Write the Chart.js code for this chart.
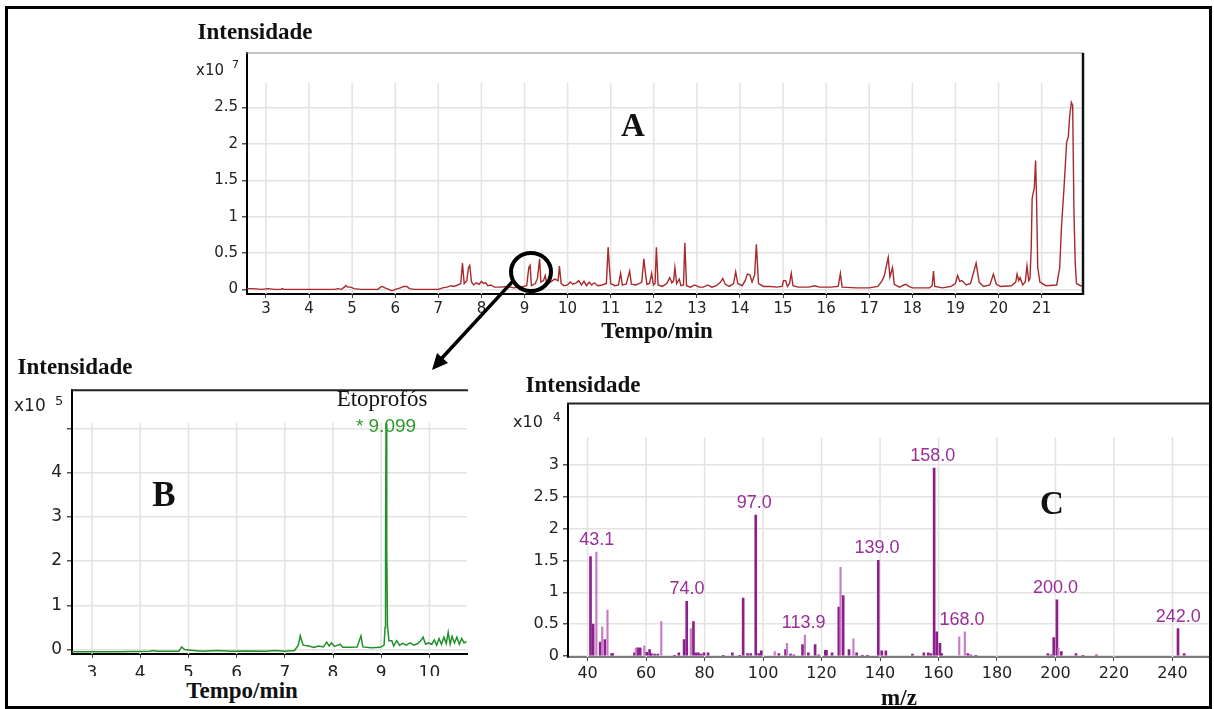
<!DOCTYPE html>
<html>
<head>
<meta charset="utf-8">
<title>Cromatograma e espectro de massas</title>
<script src="https://cdn.jsdelivr.net/npm/chart.js@4.4.1/dist/chart.umd.min.js"></script>
<style>
  html, body { margin: 0; padding: 0; background: #fff; }
  body { width: 1214px; height: 709px; position: relative; overflow: hidden; }
  canvas { position: absolute; }
  .t { position: absolute; transform: translate(-50%, -50%); white-space: nowrap; line-height: 1; }
  .serif { font-family: "Liberation Serif", "Times New Roman", serif; color: #111; }
  .title { font-weight: bold; font-size: 23px; }
  .big { font-weight: bold; }
  .mult { position: absolute; font-family: "DejaVu Sans", sans-serif; color: #222; line-height: 1; transform: translateY(-50%); white-space: nowrap; }
  #frame { position: absolute; left: 5px; top: 6px; width: 1207px; height: 703px; border: 3px solid #000; box-sizing: border-box; }
  #cover { position: absolute; left: 72px; top: 676px; width: 396px; height: 28px; background: #fff; }
  svg { position: absolute; left: 0; top: 0; }
</style>
</head>
<body>
<canvas id="chartA" width="910" height="290" style="left:180px;top:40px"></canvas>
<canvas id="chartB" width="460" height="330" style="left:10px;top:375px"></canvas>
<canvas id="chartC" width="712" height="315" style="left:500px;top:390px"></canvas>

<div id="cover"></div>

<div class="t serif title" style="left:255px;top:31px">Intensidade</div>
<div class="mult" style="left:196px;top:70px;font-size:15px">x10</div>
<div class="mult" style="left:232px;top:64px;font-size:11px">7</div>
<div class="t serif big" style="left:633px;top:125px;font-size:33px">A</div>
<div class="t serif title" style="left:657px;top:330px">Tempo/min</div>

<div class="t serif title" style="left:75px;top:366px">Intensidade</div>
<div class="mult" style="left:14px;top:405px;font-size:17px">x10</div>
<div class="mult" style="left:55px;top:400px;font-size:13px">5</div>
<div class="t serif big" style="left:164px;top:494px;font-size:35px">B</div>
<div class="t serif" style="left:382px;top:398px;font-size:23px">Etoprofós</div>
<div class="t" style="left:386px;top:425px;font-size:19px;font-family:'Liberation Sans',Arial,sans-serif;color:#2b992b">* 9.099</div>
<div class="t serif title" style="left:242px;top:690px">Tempo/min</div>

<div class="t serif title" style="left:583px;top:384px">Intensidade</div>
<div class="mult" style="left:513px;top:422px;font-size:16px">x10</div>
<div class="mult" style="left:553px;top:417px;font-size:12px">4</div>
<div class="t serif big" style="left:1052px;top:503px;font-size:33px">C</div>
<div class="t serif title" style="left:899px;top:697px">m/z</div>

<svg width="1214" height="709">
  <ellipse cx="531" cy="272" rx="20" ry="19" fill="none" stroke="#000" stroke-width="4"/>
  <line x1="513" y1="281" x2="442" y2="358" stroke="#000" stroke-width="3.5"/>
  <polygon points="432,370 448,363 437,353" fill="#000"/>
</svg>

<div id="frame"></div>

<script>
// ---- A: chromatogram (x10^7) ----
const timeA = [2.56, 2.7, 2.9, 3.05, 3.2, 3.35, 3.38, 3.42, 4.6, 4.66, 4.75, 4.82, 4.85, 4.9, 4.96, 5.05, 5.2, 5.6, 5.66, 5.7,
  5.76, 5.85, 5.92, 6.0, 6.12, 6.19, 6.27, 6.33, 6.45, 7.0, 7.1, 7.2, 7.3, 7.36, 7.45, 7.52, 7.56, 7.6, 7.66, 7.7,
  7.73, 7.77, 7.82, 7.88, 7.95, 8.0, 8.05, 8.1, 8.15, 8.22, 8.3, 8.45, 8.6, 8.75, 8.9, 9.05, 9.1, 9.13, 9.16, 9.25,
  9.3, 9.35, 9.38, 9.44, 9.48, 9.52, 9.6, 9.7, 9.78, 9.81, 9.85, 9.92, 10.0, 10.06, 10.12, 10.2, 10.26, 10.32, 10.38, 10.44,
  10.5, 10.56, 10.62, 10.7, 10.8, 10.9, 10.94, 10.97, 11.0, 11.1, 11.18, 11.23, 11.27, 11.36, 11.44, 11.48, 11.58, 11.66, 11.72, 11.77,
  11.8, 11.84, 11.9, 11.95, 11.99, 12.03, 12.06, 12.1, 12.2, 12.3, 12.37, 12.42, 12.46, 12.49, 12.53, 12.59, 12.63, 12.69, 12.72, 12.76,
  12.85, 12.95, 13.05, 13.15, 13.25, 13.35, 13.45, 13.55, 13.6, 13.66, 13.75, 13.85, 13.9, 13.95, 14.05, 14.12, 14.17, 14.23, 14.28, 14.34,
  14.38, 14.43, 14.55, 14.7, 14.85, 14.98, 15.01, 15.06, 15.1, 15.15, 15.19, 15.23, 15.35, 15.6, 15.73, 15.85, 16.1, 16.28, 16.33, 16.37,
  16.7, 17.0, 17.2, 17.3, 17.35, 17.44, 17.48, 17.54, 17.58, 17.7, 17.8, 17.85, 17.92, 18.0, 18.4, 18.46, 18.49, 18.52, 18.7, 18.9,
  19.0, 19.05, 19.1, 19.15, 19.25, 19.35, 19.48, 19.55, 19.65, 19.8, 19.88, 19.95, 20.05, 20.3, 20.4, 20.43, 20.47, 20.5, 20.56, 20.62,
  20.66, 20.7, 20.73, 20.76, 20.78, 20.83, 20.86, 20.88, 20.91, 20.96, 21.1, 21.35, 21.42, 21.46, 21.52, 21.58, 21.62, 21.65, 21.69, 21.72,
  21.75, 21.78, 21.81, 21.9, 21.96];
const intensityA = [0.01, 0.01, 0.0, 0.01, 0.0, 0.0, 0.01, 0.0, 0.0, 0.01, 0.0, 0.03, 0.05, 0.03, 0.03, 0.01, 0.0, 0.0, 0.03, 0.04,
  0.02, 0.0, -0.02, 0.0, 0.02, 0.04, 0.04, 0.01, 0.0, 0.0, 0.02, 0.03, 0.05, 0.04, 0.06, 0.08, 0.36, 0.08, 0.12, 0.30,
  0.33, 0.10, 0.06, 0.09, 0.07, 0.11, 0.08, 0.09, 0.05, 0.06, 0.03, 0.03, 0.04, 0.02, 0.03, 0.05, 0.30, 0.33, 0.05, 0.08,
  0.15, 0.42, 0.10, 0.12, 0.19, 0.07, 0.10, 0.14, 0.12, 0.32, 0.08, 0.05, 0.06, 0.10, 0.07, 0.09, 0.12, 0.06, 0.11, 0.05,
  0.10, 0.06, 0.09, 0.05, 0.06, 0.08, 0.58, 0.30, 0.08, 0.05, 0.06, 0.22, 0.06, 0.07, 0.25, 0.07, 0.06, 0.08, 0.10, 0.42,
  0.25, 0.07, 0.08, 0.22, 0.06, 0.08, 0.58, 0.06, 0.04, 0.08, 0.16, 0.09, 0.12, 0.30, 0.08, 0.14, 0.05, 0.06, 0.64, 0.05,
  0.03, 0.06, 0.03, 0.03, 0.06, 0.03, 0.05, 0.10, 0.15, 0.07, 0.04, 0.08, 0.24, 0.08, 0.05, 0.12, 0.21, 0.20, 0.10, 0.20,
  0.62, 0.08, 0.04, 0.04, 0.03, 0.04, 0.12, 0.12, 0.04, 0.08, 0.22, 0.05, 0.03, 0.03, 0.05, 0.03, 0.03, 0.04, 0.22, 0.03,
  0.02, 0.02, 0.04, 0.12, 0.19, 0.44, 0.17, 0.30, 0.07, 0.03, 0.06, 0.07, 0.04, 0.02, 0.02, 0.05, 0.25, 0.04, 0.02, 0.04,
  0.08, 0.19, 0.11, 0.12, 0.06, 0.08, 0.36, 0.10, 0.04, 0.06, 0.21, 0.07, 0.04, 0.05, 0.10, 0.21, 0.12, 0.16, 0.06, 0.10,
  0.32, 0.12, 0.15, 0.60, 1.25, 1.40, 1.77, 1.30, 0.30, 0.10, 0.05, 0.06, 0.30, 0.85, 1.40, 2.02, 2.10, 2.38, 2.57, 2.53,
  1.07, 0.35, 0.08, 0.05, 0.05];
const xTicksA = [3, 4, 5, 6, 7, 8, 9, 10, 11, 12, 13, 14, 15, 16, 17, 18, 19, 20, 21];
const yTicksA = [0, 0.5, 1, 1.5, 2, 2.5];
const yLabelsA = ["0", "0.5", "1", "1.5", "2", "2.5"];

// ---- B: extracted ion chromatogram (x10^5) ----
const timeB = [2.58, 3.5, 4.2, 4.27, 4.35, 4.8, 4.86, 4.92, 5.1, 5.3, 5.6, 5.9, 6.2, 6.6, 6.8, 7.0, 7.2, 7.28, 7.32, 7.38,
  7.5, 7.6, 7.7, 7.8, 7.87, 7.92, 7.97, 8.03, 8.1, 8.15, 8.2, 8.35, 8.5, 8.58, 8.62, 8.8, 8.98, 9.06, 9.08, 9.09,
  9.10, 9.115, 9.13, 9.16, 9.22, 9.26, 9.32, 9.38, 9.45, 9.52, 9.6, 9.68, 9.75, 9.82, 9.87, 9.92, 9.98, 10.05, 10.1, 10.15,
  10.2, 10.25, 10.3, 10.35, 10.39, 10.43, 10.47, 10.52, 10.57, 10.62, 10.67, 10.72, 10.77];
const intensityB = [-0.05, -0.05, -0.04, -0.02, -0.04, -0.04, 0.06, 0.0, -0.02, -0.04, -0.02, -0.04, -0.03, -0.04, -0.02, -0.04, -0.02, 0.10, 0.31, 0.10,
  0.08, 0.05, 0.08, 0.06, 0.17, 0.08, 0.15, 0.07, 0.10, 0.12, 0.05, 0.05, 0.06, 0.31, 0.06, 0.04, 0.05, 0.10, 0.50, 2.30,
  5.11, 2.30, 0.55, 0.20, 0.20, 0.08, 0.20, 0.10, 0.14, 0.10, 0.15, 0.10, 0.13, 0.20, 0.28, 0.12, 0.15, 0.12, 0.22, 0.10,
  0.25, 0.12, 0.28, 0.14, 0.39, 0.12, 0.30, 0.15, 0.28, 0.12, 0.25, 0.15, 0.18];
const xTicksB = [3, 4, 5, 6, 7, 8, 9, 10];
const yTicksB = [0, 1, 2, 3, 4, 5];
const yLabelsB = ["0", "1", "2", "3", "4", ""];

// ---- C: mass spectrum (x10^4) ----
const mzMain = [41.0, 41.9, 44.3, 45.9, 48.2, 48.6, 56.0, 57.1, 58.0, 60.2, 61.2, 61.8, 62.9, 64.0, 69.7, 71.2, 73.0, 73.9, 76.2, 77.0,
  77.9, 78.8, 79.8, 81.2, 86.4, 89.5, 92.0, 93.2, 94.7, 95.8, 97.5, 98.5, 99.4, 105.4, 107.7, 109.4, 110.5, 113.5, 115.5, 117.8,
  119.0, 121.3, 121.7, 123.6, 125.9, 127.4, 129.4, 132.0, 134.0, 135.7, 139.4, 140.6, 142.0, 151.1, 155.0, 156.5, 157.4, 158.5, 159.4, 160.5,
  161.1, 170.0, 171.0, 172.8, 197.4, 198.5, 199.4, 200.5, 202.0, 207.0, 209.4, 214.0, 241.9, 244.0];
const abundMain = [1.56, 0.50, 0.22, 0.26, 0.04, 0.04, 0.05, 0.13, 0.13, 0.06, 0.10, 0.04, 0.03, 0.03, 0.01, 0.05, 0.26, 0.86, 0.54, 0.05,
  0.05, 0.03, 0.05, 0.05, 0.01, 0.05, 0.01, 0.91, 0.04, 0.04, 2.21, 0.04, 0.08, 0.04, 0.10, 0.03, 0.02, 0.18, 0.05, 0.18,
  0.02, 0.09, 0.09, 0.05, 0.77, 0.95, 0.10, 0.05, 0.01, 0.01, 1.50, 0.08, 0.08, 0.03, 0.05, 0.05, 0.04, 2.95, 0.38, 0.20,
  0.04, 0.04, 0.02, 0.01, 0.04, 0.02, 0.29, 0.88, 0.07, 0.04, 0.01, 0.02, 0.43, 0.04];
const mzMinor = [43.0, 45.0, 46.8, 56.5, 59.4, 65.2, 75.3, 104.0, 108.2, 114.3, 126.5, 130.9, 167.1, 169.0, 201.0];
const abundMinor = [1.63, 0.46, 0.72, 0.12, 0.16, 0.54, 0.43, 0.07, 0.20, 0.33, 1.39, 0.27, 0.30, 0.38, 0.12];
const peakLabelsC = [43.1, 74.0, 97.0, 113.9, 139.0, 158.0, 168.0, 200.0, 242.0];
const xTicksC = [40, 60, 80, 100, 120, 140, 160, 180, 200, 220, 240];
const yTicksC = [0, 0.5, 1, 1.5, 2, 2.5, 3];
const yLabelsC = ["0", "0.5", "1", "1.5", "2", "2.5", "3"];

Chart.defaults.font.family = "'DejaVu Sans', sans-serif";
Chart.defaults.color = "#222";
Chart.defaults.animation = false;
Chart.defaults.plugins.legend.display = false;
Chart.defaults.plugins.tooltip.enabled = false;

const GRID = "#e3e3e3";

// vertical grid lines that stop below the top of the box, plus the box's top/right edges
const panelFrame = {
  id: "panelFrame",
  beforeDatasetsDraw(chart, args, opts) {
    const { ctx, chartArea, scales } = chart;
    const top = scales.y.getPixelForValue(opts.gridTop);
    ctx.save();
    ctx.strokeStyle = GRID;
    ctx.lineWidth = 1.5;
    scales.x.ticks.forEach((t) => {
      const px = scales.x.getPixelForValue(t.value);
      ctx.beginPath();
      ctx.moveTo(px, top);
      ctx.lineTo(px, chartArea.bottom);
      ctx.stroke();
    });
    ctx.restore();
  },
  afterDraw(chart, args, opts) {
    const { ctx, chartArea } = chart;
    ctx.save();
    if (opts.topColor) {
      ctx.strokeStyle = opts.topColor;
      ctx.lineWidth = opts.topWidth;
      ctx.beginPath();
      ctx.moveTo(chartArea.left - 1, chartArea.top);
      ctx.lineTo(chartArea.right + 1, chartArea.top);
      ctx.stroke();
    }
    if (opts.rightColor) {
      ctx.strokeStyle = opts.rightColor;
      ctx.lineWidth = opts.rightWidth;
      ctx.beginPath();
      ctx.moveTo(chartArea.right, chartArea.top);
      ctx.lineTo(chartArea.right, chartArea.bottom + 1);
      ctx.stroke();
    }
    ctx.restore();
  },
};

const peakLabels = {
  id: "peakLabels",
  afterDatasetsDraw(chart) {
    const { ctx, scales } = chart;
    const bars = mzMain.map((m, i) => ({ x: m, y: abundMain[i] }))
      .concat(mzMinor.map((m, i) => ({ x: m, y: abundMinor[i] })));
    ctx.save();
    ctx.font = "18px 'Liberation Sans', Arial, sans-serif";
    ctx.fillStyle = "#9a2e97";
    ctx.textAlign = "center";
    ctx.textBaseline = "middle";
    peakLabelsC.forEach((mz) => {
      let best = null;
      bars.forEach((b) => {
        if (Math.abs(b.x - mz) <= 2.5 && (!best || b.y > best.y)) best = b;
      });
      ctx.fillText(mz.toFixed(1), scales.x.getPixelForValue(mz), scales.y.getPixelForValue(best.y) - 12);
    });
    ctx.restore();
  },
};

function xAxis(min, max, ticks, fontSize, pad, height, borderColor) {
  return {
    type: "linear",
    min: min,
    max: max,
    offset: false,
    afterBuildTicks: (s) => { s.ticks = ticks.map((v) => ({ value: v })); },
    afterFit: (s) => { s.height = height; },
    ticks: {
      autoSkip: false,
      maxRotation: 0,
      padding: pad,
      font: { size: fontSize },
      color: "#222",
      callback: (v) => String(v),
    },
    grid: { offset: false, drawOnChartArea: false, tickLength: 4, tickColor: "#444", lineWidth: 1 },
    border: { color: borderColor, width: 2 },
  };
}

function yAxis(min, max, ticks, labels, fontSize, pad, width) {
  return {
    type: "linear",
    min: min,
    max: max,
    afterBuildTicks: (s) => { s.ticks = ticks.map((v) => ({ value: v })); },
    afterFit: (s) => { s.width = width; },
    ticks: {
      padding: pad,
      font: { size: fontSize },
      color: "#222",
      callback: (v, i) => labels[i],
    },
    grid: { color: GRID, lineWidth: 1.5, tickColor: "#555", tickLength: 5 },
    border: { color: "#000", width: 2 },
  };
}

new Chart(document.getElementById("chartA"), {
  type: "line",
  data: {
    datasets: [{
      data: timeA.map((t, i) => ({ x: t, y: intensityA[i] })),
      borderColor: "#a8292c",
      borderWidth: 1.4,
      pointRadius: 0,
      tension: 0,
    }],
  },
  options: {
    responsive: false,
    devicePixelRatio: 1,
    layout: { padding: { top: 9, right: 7, left: 0, bottom: 0 } },
    scales: {
      x: xAxis(2.56, 21.96, xTicksA, 15, 2, 36, "#000"),
      y: yAxis(-0.064, 3.25, yTicksA, yLabelsA, 15, 4, 67),
    },
    plugins: {
      panelFrame: { gridTop: 2.84, topColor: "#8a8a8a", topWidth: 1.2, rightColor: "#111", rightWidth: 2.5 },
    },
  },
  plugins: [panelFrame],
});

new Chart(document.getElementById("chartB"), {
  type: "line",
  data: {
    datasets: [{
      data: timeB.map((t, i) => ({ x: t, y: intensityB[i] })),
      borderColor: "#23902a",
      borderWidth: 1.5,
      pointRadius: 0,
      tension: 0,
    }],
  },
  options: {
    responsive: false,
    devicePixelRatio: 1,
    layout: { padding: { top: 6, right: 3, left: 0, bottom: 0 } },
    scales: {
      x: xAxis(2.585, 10.78, xTicksB, 17, 5, 51, "#000"),
      y: yAxis(-0.10, 5.86, yTicksB, yLabelsB, 17, 5, 62),
    },
    plugins: {
      panelFrame: { gridTop: 5.13, topColor: "#222", topWidth: 2 },
    },
  },
  plugins: [panelFrame],
});

new Chart(document.getElementById("chartC"), {
  type: "bar",
  data: {
    datasets: [
      {
        data: mzMinor.map((m, i) => ({ x: m, y: abundMinor[i] })),
        backgroundColor: "#c77cc5",
        barThickness: 1.5,
        grouped: false,
      },
      {
        data: mzMain.map((m, i) => ({ x: m, y: abundMain[i] })),
        backgroundColor: "#8c1f8b",
        barThickness: 2,
        grouped: false,
      },
    ],
  },
  options: {
    responsive: false,
    devicePixelRatio: 1,
    layout: { padding: { top: 6, right: 3, left: 0, bottom: 0 } },
    scales: {
      x: xAxis(33.3, 252.5, xTicksC, 16, 3, 48, "#7a7a7a"),
      y: yAxis(-0.015, 3.96, yTicksC, yLabelsC, 16, 4, 68),
    },
    plugins: {
      panelFrame: { gridTop: 3.43, topColor: "#222", topWidth: 2 },
    },
  },
  plugins: [panelFrame, peakLabels],
});
</script>
</body>
</html>
